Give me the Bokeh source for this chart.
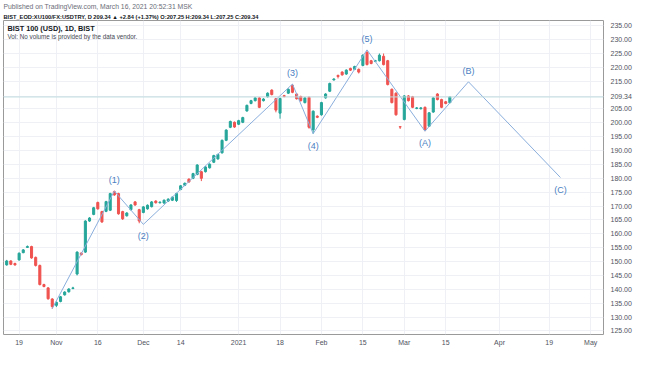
from bokeh.plotting import figure
from bokeh.models import (FixedTicker, NumeralTickFormatter, Range1d, Span, Label,
                          ColumnDataSource, Title)
from bokeh.core.properties import value
from bokeh.embed import file_html
from bokeh.resources import INLINE

# ---------------- data ----------------
bar_index = list(range(-3, 105))
open_ = [148.8, 150.2, 149.3, 150.6, 153.2, 155.1, 155.4, 151.5, 148.6, 141.7,
         140.5, 136.5, 134.2, 135.6, 138.0, 139.1, 140.3, 145.5, 153.0, 153.4,
         164.6, 167.0, 171.3, 168.0, 168.1, 168.5, 175.2, 174.5, 168.0, 166.5,
         168.7, 171.5, 168.7, 167.7, 169.0, 169.8, 171.8, 171.2, 171.1, 171.8,
         172.1, 172.0, 176.0, 177.5, 179.7, 180.0, 181.4, 182.4, 182.4, 183.8,
         185.8, 187.0, 189.2, 193.7, 198.4, 200.2, 199.5, 200.2, 204.3, 207.0,
         208.0, 209.0, 208.0, 209.4, 211.8, 208.7, 203.5, 209.8, 210.7, 213.5,
         210.4, 209.5, 207.3, 209.2, 197.5, 202.4, 202.9, 209.0, 211.4, 215.5,
         217.1, 218.3, 217.6, 219.6, 219.3, 219.3, 220.7, 225.4, 222.4, 222.2,
         222.4, 224.0, 222.4, 212.1, 210.7, 198.6, 201.2, 209.7, 209.4, 205.2,
         205.1, 205.6, 198.8, 203.9, 210.4, 208.4, 207.6, 207.25]
high = [150.6, 150.5, 149.6, 153.3, 154.5, 155.8, 155.7, 151.8, 148.9, 142.0,
        140.8, 136.8, 135.6, 137.6, 139.3, 140.4, 140.9, 153.7, 153.4, 164.9,
        166.0, 169.7, 171.6, 168.3, 171.9, 174.8, 175.6, 174.8, 168.3, 167.8,
        170.7, 171.8, 169.0, 170.0, 170.6, 171.8, 172.1, 171.7, 172.4, 172.8,
        173.5, 174.8, 177.6, 178.5, 180.0, 182.0, 185.1, 182.7, 184.4, 185.4,
        188.5, 188.9, 194.0, 197.7, 200.8, 200.5, 201.1, 202.2, 206.6, 208.3,
        209.3, 209.3, 208.9, 211.0, 212.1, 209.0, 209.1, 210.1, 212.4, 214.0,
        210.7, 209.8, 209.3, 209.5, 204.5, 202.7, 207.6, 210.7, 214.5, 216.1,
        217.4, 218.6, 219.3, 219.9, 220.6, 219.6, 224.7, 226.2, 222.7, 222.7,
        225.0, 225.0, 222.7, 212.4, 211.0, 198.7, 210.0, 210.0, 209.7, 205.7,
        205.7, 205.9, 203.9, 209.3, 210.7, 208.7, 207.9, 209.34]
low = [148.5, 148.7, 148.5, 150.3, 153.0, 154.9, 151.0, 148.2, 141.4, 140.7,
       136.2, 133.0, 133.6, 135.3, 137.7, 138.8, 140.0, 145.0, 152.2, 153.1,
       164.3, 166.7, 168.7, 163.9, 167.8, 168.2, 173.7, 166.9, 165.0, 166.2,
       168.4, 170.1, 163.8, 167.4, 168.7, 169.5, 170.9, 170.9, 170.8, 171.5,
       171.8, 171.5, 175.7, 177.2, 178.4, 179.7, 181.1, 179.0, 182.1, 183.5,
       185.5, 186.7, 188.9, 193.4, 198.1, 198.2, 199.2, 199.9, 204.0, 206.7,
       207.7, 205.3, 207.7, 209.1, 209.9, 203.8, 201.5, 209.2, 210.4, 210.7,
       208.4, 207.7, 207.0, 197.9, 196.1, 201.7, 202.6, 208.7, 211.1, 215.2,
       216.0, 217.0, 217.3, 218.7, 219.0, 217.8, 220.4, 220.7, 221.1, 221.9,
       222.1, 220.7, 213.5, 207.0, 202.6, 197.8, 200.9, 207.7, 205.3, 204.9,
       204.8, 197.0, 198.5, 203.6, 208.1, 205.3, 206.7, 207.25]
close = [150.2, 149.0, 148.8, 153.0, 154.2, 155.4, 151.3, 148.6, 141.7, 141.0,
         136.6, 133.8, 135.3, 137.3, 139.0, 140.1, 140.5, 153.4, 152.5, 164.6,
         165.7, 169.4, 169.0, 164.3, 171.6, 174.5, 174.0, 167.2, 165.4, 167.5,
         170.4, 170.4, 164.6, 169.7, 170.3, 171.5, 171.2, 171.4, 172.1, 172.5,
         173.2, 174.5, 177.3, 178.2, 178.7, 181.7, 184.8, 180.0, 184.1, 185.1,
         188.2, 188.6, 193.7, 197.4, 200.5, 198.5, 200.8, 201.9, 206.3, 208.0,
         209.0, 205.6, 208.6, 210.7, 210.2, 204.6, 208.8, 209.5, 212.1, 211.0,
         208.7, 208.0, 209.0, 198.4, 204.2, 202.0, 207.3, 210.4, 214.2, 215.8,
         216.7, 217.3, 219.0, 219.0, 220.3, 218.3, 224.4, 221.0, 221.4, 222.4,
         224.4, 221.0, 213.8, 207.3, 202.9, 198.5, 209.7, 208.0, 205.6, 205.4,
         205.4, 197.4, 203.6, 209.0, 208.4, 205.6, 207.0, 209.34]

time_tick_pos = [0, 9, 19, 30, 39, 53, 63, 73, 83, 93, 103, 116, 128, 138]
time_tick_labels = ["19", "Nov", "16", "Dec", "14", "2021", "18", "Feb",
                    "15", "Mar", "15", "Apr", "19", "May"]
# 210.00 is hidden behind the last-price tag in the original; the tag shows 209.34
price_ticks = [125, 130, 135, 140, 145, 150, 155, 160, 165, 170, 175, 180,
               185, 190, 195, 200, 205, 209.34, 215, 220, 225, 230, 235]

wave_index = [8, 23, 30, 66, 71, 84, 98, 108.5, 130.7]
wave_price = [133.0, 175.4, 163.4, 214.0, 196.1, 226.3, 197.0, 214.8, 180.3]
wave_labels = ["", "(1)", "(2)", "(3)", "(4)", "(5)", "(A)", "(B)", "(C)"]

header_line1 = "Published on TradingView.com, March 16, 2021 20:52:31 MSK"
header_line2 = ("BIST_EOD:XU100/FX:USDTRY, D 209.34 \u25B2 +2.84 (+1.37%) "
                "O:207.25 H:209.34 L:207.25 C:209.34")
legend_line1 = "BIST 100 (USD), 1D, BIST"
legend_line2 = "Vol: No volume is provided by the data vendor."

# ---------------- styling ----------------
UP, DOWN = "#26a69a", "#ef5350"
FONT = "Liberation Sans"
DARK = "#131722"

W, H = 638, 350
TOP, BOTTOM, LEFT, RIGHT = 20, 16, 3, 35
FRAME_W = W - LEFT - RIGHT
FRAME_H = H - TOP - BOTTOM

p = figure(width=W, height=H, output_backend="svg", toolbar_location=None,
           x_range=Range1d(-3.77, 141.1), y_range=Range1d(123.7, 236.9),
           y_axis_location="right",
           min_border_left=LEFT, min_border_right=RIGHT,
           min_border_top=TOP, min_border_bottom=BOTTOM)
p.outline_line_color = "#9a9a9a"
p.background_fill_color = "white"

# header lines (stacked outward from the frame)
p.title.visible = False
p.add_layout(Title(text=header_line2, text_font=FONT, text_font_size="5.7px",
                   text_font_style="bold", text_color=DARK, align="left",
                   standoff=2), "above")
p.add_layout(Title(text=header_line1, text_font=FONT, text_font_size="6.8px",
                   text_font_style="normal", text_color="#6a6d78", align="left",
                   standoff=1), "above")

p.xaxis.ticker = FixedTicker(ticks=time_tick_pos)
p.xaxis.major_label_overrides = dict(zip(time_tick_pos, time_tick_labels))
p.yaxis.ticker = FixedTicker(ticks=price_ticks)
p.yaxis.formatter = NumeralTickFormatter(format="0.00")
for ax in (p.xaxis, p.yaxis):
    ax.major_tick_line_color = None
    ax.minor_tick_line_color = None
    ax.major_tick_out = 0
    ax.minor_tick_out = 0
    ax.axis_line_color = None
    ax.major_label_text_font = FONT
    ax.major_label_text_font_size = "7px"
    ax.major_label_text_color = "#50535e"
p.xaxis.major_label_standoff = 4
p.yaxis.major_label_standoff = 7
p.xgrid.grid_line_color = "#eef0f5"
p.ygrid.grid_line_color = "#eef0f5"

# last price line
p.add_layout(Span(location=close[-1], dimension="width", line_color="#bfdcdf", line_width=1))

# candles
colors = [UP if c >= o else DOWN for o, c in zip(open_, close)]
src = ColumnDataSource(dict(
    t=bar_index, h=high, l=low,
    top=[max(o, c) for o, c in zip(open_, close)],
    bottom=[min(o, c) for o, c in zip(open_, close)],
    color=colors))
p.segment(x0="t", y0="h", x1="t", y1="l", line_color="color", line_width=1, source=src)
p.vbar(x="t", width=0.5, top="top", bottom="bottom", fill_color="color",
       line_color="color", line_width=1, source=src)

# Elliott waves
WAVE = "#8aaedc"
p.line(wave_index, wave_price, line_color=WAVE, line_width=1)
offsets = []
for i, v in enumerate(wave_price):
    prev_v = wave_price[i - 1] if i > 0 else wave_price[i + 1]
    offsets.append(-11 if v > prev_v else 12)
wsrc = ColumnDataSource(dict(x=wave_index[1:], y=wave_price[1:], text=wave_labels[1:], yo=offsets[1:]))
p.text(x="x", y="y", text="text", y_offset="yo", source=wsrc,
       text_align="center", text_baseline="middle", text_font=value(FONT),
       text_font_size="9px", text_color="#4a80c2")

# legend text inside the pane (canvas position from top-left)
def add_text(x, Y, text, size, color, bold=False):
    p.add_layout(Label(x=x - LEFT, x_units="screen", y=FRAME_H - (Y - TOP), y_units="screen",
                       text=text, text_font=FONT, text_font_size=f"{size}px",
                       text_color=color, text_baseline="middle",
                       text_font_style="bold" if bold else "normal"))

add_text(7, 28, legend_line1, 7.3, DARK, True)
add_text(7, 36, legend_line2, 6.3, "#434651")

open("out.html", "w").write(file_html(p, INLINE))
